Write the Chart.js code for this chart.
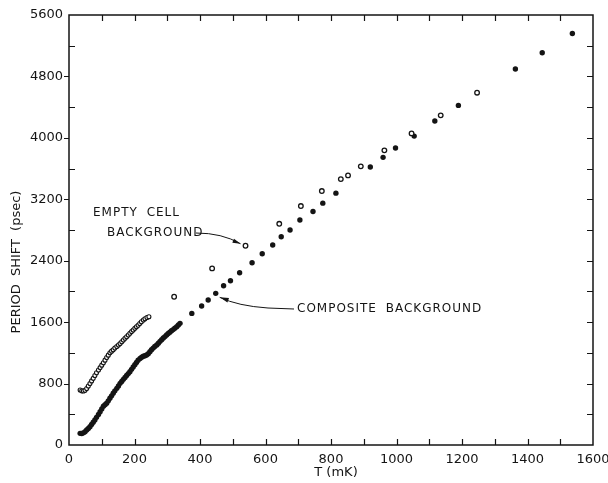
<!DOCTYPE html>
<html>
<head>
<meta charset="utf-8">
<script src="https://cdn.jsdelivr.net/npm/chart.js@4.4.1/dist/chart.umd.min.js"></script>
<style>
  html, body { margin: 0; padding: 0; background: #fff; }
  canvas { display: block; }
</style>
</head>
<body>
<canvas id="chart" width="608" height="483"></canvas>
<script>
// empty cell background, closely spaced low temperature run
const emptyDenseT = [34, 39, 44, 49, 54, 59, 64, 69, 74, 79, 84, 90, 95, 100, 105, 110, 115, 120, 125, 130,
  135, 140, 146, 151, 156, 161, 166, 171, 176, 181, 186, 191, 196, 201, 206, 211, 216, 221, 227, 232, 238, 244];
const emptyDenseP = [716, 705, 703, 712, 735, 768, 800, 835, 868, 905, 940, 977, 1008, 1040, 1072, 1105, 1140, 1170, 1202, 1222,
  1240, 1262, 1282, 1302, 1322, 1345, 1368, 1390, 1410, 1432, 1455, 1477, 1498, 1519, 1540, 1560, 1583, 1605, 1628, 1645, 1660, 1670];

// empty cell background, single points
const emptyT = [321, 437, 539, 642, 708, 772, 830, 852, 891, 963, 1046, 1135, 1246];
const emptyP = [1931, 2300, 2595, 2881, 3112, 3307, 3463, 3511, 3629, 3837, 4058, 4293, 4588];

// composite background, closely spaced run
const compDenseT = [34, 39, 44, 49, 54, 59, 64, 69, 74, 79, 84, 90, 95, 100, 105, 110, 115, 120, 125, 130,
  135, 140, 146, 151, 156, 161, 166, 171, 176, 181, 186, 191, 196, 201, 206, 211, 217, 222, 227, 232,
  237, 242, 247, 252, 257, 262, 268, 273, 278, 283, 288, 293, 298, 303, 308, 313, 318, 323, 329, 334, 339];
const compDenseP = [152, 150, 158, 173, 195, 215, 238, 268, 297, 326, 360, 397, 434, 470, 505, 525, 543, 575, 608, 640,
  673, 705, 738, 770, 803, 828, 855, 880, 905, 930, 954, 985, 1015, 1045, 1075, 1103, 1128, 1142, 1155, 1163,
  1172, 1190, 1215, 1240, 1262, 1282, 1302, 1325, 1350, 1372, 1393, 1412, 1432, 1452, 1470, 1488, 1503, 1520, 1540, 1562, 1584];

// composite background, single points
const compT = [375, 405, 425, 448, 472, 493, 521, 559, 590, 622, 648, 675, 705, 745, 775, 815, 920, 959, 997, 1054, 1117, 1189, 1363, 1445, 1537];
const compP = [1714, 1810, 1888, 1975, 2074, 2139, 2244, 2374, 2491, 2604, 2712, 2800, 2930, 3040, 3150, 3280, 3620, 3746, 3867, 4023, 4219, 4423, 4896, 5108, 5360];

const xTickLabels = [0, 200, 400, 600, 800, 1000, 1200, 1400, 1600];
const yTickLabels = [0, 800, 1600, 2400, 3200, 4000, 4800, 5600];

const INK = '#141414';

function pts(xs, ys) {
  return xs.map((x, i) => ({ x: x, y: ys[i] }));
}

function arrowHead(ctx, x, y, ang, len, half) {
  ctx.beginPath();
  ctx.moveTo(x, y);
  ctx.lineTo(x - len * Math.cos(ang) + half * Math.sin(ang), y - len * Math.sin(ang) - half * Math.cos(ang));
  ctx.lineTo(x - len * Math.cos(ang) - half * Math.sin(ang), y - len * Math.sin(ang) + half * Math.cos(ang));
  ctx.closePath();
  ctx.fill();
}

// frame, inward ticks, labels and the two callouts
const axesPlugin = {
  id: 'axesPlugin',
  afterDraw(chart) {
    const ctx = chart.ctx;
    const a = chart.chartArea;
    const xs = chart.scales.x;
    const ys = chart.scales.y;
    ctx.save();
    ctx.strokeStyle = INK;
    ctx.fillStyle = INK;
    ctx.lineWidth = 1.5;
    ctx.strokeRect(a.left, a.top, a.right - a.left, a.bottom - a.top);

    ctx.lineWidth = 1.2;
    ctx.beginPath();
    for (let v = 100; v < 1600; v += 100) {
      const px = Math.round(xs.getPixelForValue(v)) + 0.5;
      ctx.moveTo(px, a.bottom); ctx.lineTo(px, a.bottom - 6);
      ctx.moveTo(px, a.top); ctx.lineTo(px, a.top + 6);
    }
    for (let v = 400; v < 5600; v += 400) {
      const py = Math.round(ys.getPixelForValue(v)) + 0.5;
      if (v % 800 === 0) {
        ctx.moveTo(a.left, py); ctx.lineTo(a.left - 5, py);
      } else {
        ctx.moveTo(a.left, py); ctx.lineTo(a.left + 6, py);
      }
      ctx.moveTo(a.right, py); ctx.lineTo(a.right - 6, py);
    }
    ctx.stroke();

    ctx.font = '13px "DejaVu Sans"';
    ctx.textBaseline = 'middle';
    ctx.textAlign = 'center';
    xTickLabels.forEach(v => ctx.fillText(String(v), xs.getPixelForValue(v), a.bottom + 15));
    ctx.textAlign = 'right';
    yTickLabels.forEach(v => ctx.fillText(String(v), a.left - 6, ys.getPixelForValue(v)));

    ctx.textAlign = 'center';
    ctx.fillText('T (mK)', 336, 473);
    ctx.save();
    ctx.translate(17, 262);
    ctx.rotate(-Math.PI / 2);
    ctx.wordSpacing = '4px';
    ctx.fillText('PERIOD SHIFT (psec)', 0, 0);
    ctx.restore();

    // callouts
    ctx.font = '12px "DejaVu Sans"';
    ctx.letterSpacing = '1px';
    ctx.wordSpacing = '4px';
    ctx.textAlign = 'left';
    ctx.fillText('EMPTY CELL', 93, 213);
    ctx.fillText('BACKGROUND', 107, 233);
    ctx.fillText('COMPOSITE BACKGROUND', 297, 309);
    ctx.letterSpacing = '0px';

    ctx.lineWidth = 1;
    const e = { x: xs.getPixelForValue(539) - 5, y: ys.getPixelForValue(2595) - 2 };
    ctx.beginPath();
    ctx.moveTo(196, 233);
    ctx.quadraticCurveTo(222, 233, e.x, e.y);
    ctx.stroke();
    arrowHead(ctx, e.x, e.y, Math.atan2(e.y - 236, e.x - 222), 8, 2.2);

    const c = { x: xs.getPixelForValue(448) + 4, y: ys.getPixelForValue(1975) + 4 };
    ctx.beginPath();
    ctx.moveTo(294, 309);
    ctx.lineTo(268, 308);
    ctx.quadraticCurveTo(238, 306, c.x, c.y);
    ctx.stroke();
    arrowHead(ctx, c.x, c.y, Math.atan2(c.y - 303, c.x - 236), 9, 2.4);
    ctx.restore();
  }
};

new Chart(document.getElementById('chart'), {
  type: 'scatter',
  data: {
    datasets: [
      { data: pts(emptyDenseT, emptyDenseP), pointRadius: 2, pointBorderWidth: 1.1, borderColor: INK, backgroundColor: '#fff' },
      { data: pts(emptyT, emptyP), pointRadius: 2.3, pointBorderWidth: 1.3, borderColor: INK, backgroundColor: '#fff' },
      { data: pts(compDenseT, compDenseP), pointRadius: 2.7, pointBorderWidth: 0, borderColor: INK, backgroundColor: INK },
      { data: pts(compT, compP), pointRadius: 2.7, pointBorderWidth: 0, borderColor: INK, backgroundColor: INK }
    ]
  },
  options: {
    responsive: false,
    animation: false,
    devicePixelRatio: 1,
    layout: { padding: { left: 69, right: 15, top: 15, bottom: 38 } },
    scales: {
      x: { type: 'linear', min: 0, max: 1600, display: false },
      y: { type: 'linear', min: 0, max: 5600, display: false }
    },
    plugins: { legend: { display: false }, tooltip: { enabled: false } }
  },
  plugins: [axesPlugin]
});
</script>
</body>
</html>
